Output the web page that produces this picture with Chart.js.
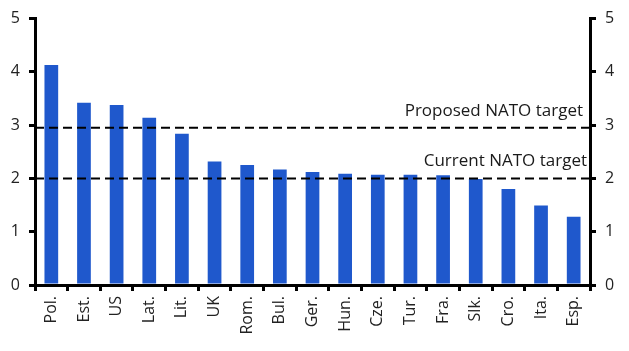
<!DOCTYPE html>
<html>
<head>
<meta charset="utf-8">
<script src="https://cdn.jsdelivr.net/npm/chart.js@4"></script>
<style>
  html, body { margin: 0; padding: 0; background: #fff; }
  canvas { display: block; }
</style>
</head>
<body>
<canvas id="chart" width="629" height="351"></canvas>
<script>
// defence spending, % of GDP
const countries = ['Pol.', 'Est.', 'US', 'Lat.', 'Lit.', 'UK', 'Rom.', 'Bul.', 'Ger.',
    'Hun.', 'Cze.', 'Tur.', 'Fra.', 'Slk.', 'Cro.', 'Ita.', 'Esp.'];
const spending = [4.13, 3.42, 3.38, 3.14, 2.84, 2.32, 2.25, 2.17, 2.12,
    2.09, 2.07, 2.07, 2.06, 1.99, 1.80, 1.49, 1.28];
const targetValues = [2.95, 2.0];
const targetLabels = ['Proposed NATO target', 'Current NATO target'];
const yTicks = [0, 1, 2, 3, 4, 5];

const FONT = '"Open Sans", "Noto Sans", sans-serif';

// dashed target lines plus their labels
const targetLines = {
    id: 'targetLines',
    afterDatasetsDraw(chart) {
        const ctx = chart.ctx;
        const area = chart.chartArea;
        const y = chart.scales.y;
        ctx.save();
        ctx.strokeStyle = '#000';
        ctx.lineWidth = 2;
        ctx.setLineDash([9, 5]);
        ctx.fillStyle = '#1a1a1a';
        ctx.font = '17px ' + FONT;
        ctx.textAlign = 'right';
        ctx.textBaseline = 'alphabetic';
        const offsets = [7, 3];
        for (let i = 0; i < targetValues.length; i++) {
            const py = y.getPixelForValue(targetValues[i]);
            ctx.beginPath();
            ctx.moveTo(area.left, py);
            ctx.lineTo(area.right, py);
            ctx.stroke();
            ctx.fillText(targetLabels[i], area.right - offsets[i], py - 12);
        }
        ctx.restore();
    }
};

const yAxis = (pos, width) => ({
    position: pos,
    min: 0,
    max: 5,
    afterBuildTicks: s => { s.ticks = yTicks.map(v => ({ value: v })); },
    afterFit: s => { s.width = width; },
    border: { display: true, color: '#000', width: 3 },
    grid: { drawOnChartArea: false, drawTicks: true, tickLength: 6, color: '#000', lineWidth: 3 },
    ticks: { color: '#222', font: { family: FONT, size: 16 }, padding: 9 }
});

new Chart(document.getElementById('chart'), {
    type: 'bar',
    data: {
        labels: countries,
        datasets: [{
            data: spending,
            backgroundColor: '#1f58cc',
            barPercentage: 0.42,
            categoryPercentage: 1.0
        }]
    },
    options: {
        responsive: false,
        animation: false,
        layout: { padding: { top: 16, left: 0, right: 0, bottom: 0 } },
        plugins: { legend: { display: false }, tooltip: { enabled: false } },
        scales: {
            x: {
                afterFit: s => { s.height = 66; },
                border: { display: true, color: '#000', width: 3 },
                grid: { offset: true, drawOnChartArea: false, drawTicks: true, tickLength: 6, color: '#000', lineWidth: 3 },
                ticks: { color: '#222', font: { family: FONT, size: 16 }, minRotation: 90, maxRotation: 90, padding: 5 }
            },
            y: yAxis('left', 35),
            y2: yAxis('right', 39)
        }
    },
    plugins: [targetLines]
});
</script>
</body>
</html>
